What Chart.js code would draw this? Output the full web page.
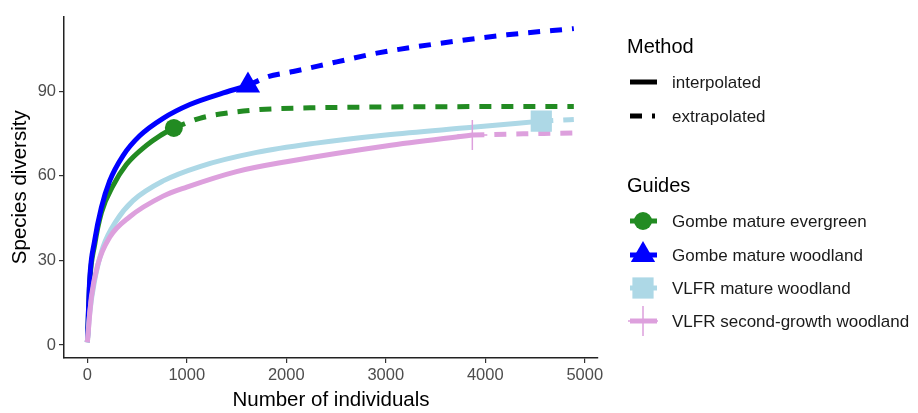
<!DOCTYPE html>
<html>
<head>
<meta charset="utf-8">
<script src="https://cdn.jsdelivr.net/npm/chart.js@4.4.1/dist/chart.umd.min.js"></script>
<style>
  html, body { margin: 0; padding: 0; background: #fff; }
</style>
</head>
<body>
<canvas id="rarefaction" width="918" height="413"></canvas>
<script>
const xTicks = [0, 1000, 2000, 3000, 4000, 5000];
const yTicks = [0, 30, 60, 90];

const groups = ["Gombe mature evergreen", "Gombe mature woodland", "VLFR mature woodland", "VLFR second-growth woodland"];
const methods = ["interpolated", "extrapolated"];
const colors = ["#228B22", "#0000FF", "#ADD8E6", "#DDA0DD"];

// Gombe mature evergreen
const evgInterpN = [1, 24, 74, 142, 259, 393, 595, 729, 870];
const evgInterpS = [1, 22, 35.5, 47, 56.5, 64, 70.8, 74.2, 77];
const evgExtrapN = [870, 1130, 1334, 1735, 2240, 2910, 3600, 4300, 4890];
const evgExtrapS = [77, 80.4, 81.9, 83.5, 84.1, 84.4, 84.5, 84.6, 84.6];

// Gombe mature woodland
const gwInterpN = [1, 24, 74, 142, 225, 360, 527, 762, 1031, 1367, 1615];
const gwInterpS = [1, 23, 37, 48.8, 58.2, 67.2, 74.2, 80.4, 85.3, 89.4, 92];
const gwExtrapN = [1615, 1803, 2070, 2507, 2910, 3547, 4218, 4890];
const gwExtrapS = [92, 95, 97, 100.4, 103.5, 107, 110, 112.2];

// VLFR mature woodland
const vmInterpN = [1, 24, 74, 158, 293, 460, 762, 1131, 1702, 2300, 3000, 3870, 4563];
const vmInterpS = [1, 11.2, 23, 34.7, 44.1, 51.2, 58.2, 63.3, 68.3, 71.6, 74.5, 77.2, 79.4];
const vmExtrapN = [4563, 4730, 4890];
const vmExtrapS = [79.4, 79.7, 80];

// VLFR second-growth woodland
const vsInterpN = [1, 41, 108, 225, 427, 762, 1000, 1500, 2000, 3000, 3870];
const vsInterpS = [1, 17, 28.8, 38.2, 45.5, 52.8, 56, 61.5, 65, 70.6, 74.5];
const vsExtrapN = [3870, 4380, 4890];
const vsExtrapS = [74.5, 74.9, 75.2];

const interpN = [evgInterpN, gwInterpN, vmInterpN, vsInterpN];
const interpS = [evgInterpS, gwInterpS, vmInterpS, vsInterpS];
const extrapN = [evgExtrapN, gwExtrapN, vmExtrapN, vsExtrapN];
const extrapS = [evgExtrapS, gwExtrapS, vmExtrapS, vsExtrapS];

const shapes = ["circle", "triangle", "rect", "cross"];
const shapeSize = [9, 14, 15, 15];

const FONT = '"Liberation Sans", Arial, sans-serif';

function pts(xs, ys) {
  return xs.map((x, i) => ({ x: x, y: ys[i] }));
}

let datasets = [];
groups.forEach((g, i) => {
  datasets.push({
    label: g + " " + methods[0],
    data: pts(interpN[i], interpS[i]),
    borderColor: colors[i],
    borderWidth: 5,
    pointRadius: 0,
    cubicInterpolationMode: "monotone",
    order: 4 - i
  });
  datasets.push({
    label: g + " " + methods[1],
    data: pts(extrapN[i], extrapS[i]),
    borderColor: colors[i],
    borderWidth: 5,
    borderDash: [12, 10],
    pointRadius: 0,
    cubicInterpolationMode: "monotone",
    order: 4 - i
  });
  const last = interpN[i].length - 1;
  datasets.push({
    label: g,
    data: [{ x: interpN[i][last], y: interpS[i][last] }],
    showLine: false,
    pointStyle: shapes[i],
    pointRadius: shapeSize[i],
    pointBackgroundColor: colors[i],
    pointBorderColor: colors[i],
    pointBorderWidth: shapes[i] == "cross" ? 1.5 : 0,
    order: 0
  });
});

const sideLegend = {
  id: "sideLegend",
  afterDraw(chart) {
    const ctx = chart.ctx;
    ctx.save();
    ctx.textBaseline = "middle";
    ctx.textAlign = "left";
    ctx.fillStyle = "#000";
    ctx.font = "20px " + FONT;
    ctx.fillText("Method", 627, 47);
    ctx.fillText("Guides", 627, 186);

    ctx.font = "17px " + FONT;
    ctx.fillStyle = "#1a1a1a";
    ctx.fillText(methods[0], 672, 83);
    ctx.fillText(methods[1], 672, 117);

    ctx.strokeStyle = "#000";
    ctx.lineWidth = 5;
    ctx.beginPath();
    ctx.moveTo(630, 82);
    ctx.lineTo(657, 82);
    ctx.stroke();
    ctx.setLineDash([12, 10]);
    ctx.beginPath();
    ctx.moveTo(630, 116);
    ctx.lineTo(655, 116);
    ctx.stroke();
    ctx.setLineDash([]);

    const rows = [221, 255, 288, 321];
    groups.forEach((g, i) => {
      ctx.strokeStyle = colors[i];
      ctx.lineWidth = 5;
      ctx.beginPath();
      ctx.moveTo(630, rows[i]);
      ctx.lineTo(657, rows[i]);
      ctx.stroke();
      ctx.fillStyle = colors[i];
      ctx.lineWidth = 1.5;
      Chart.helpers.drawPoint(ctx, {
        pointStyle: shapes[i],
        radius: shapeSize[i],
        rotation: 0,
        borderWidth: shapes[i] == "cross" ? 1.5 : 0
      }, 643, rows[i]);
      ctx.fillStyle = "#1a1a1a";
      ctx.fillText(g, 672, rows[i] + 1);
    });
    ctx.restore();
  }
};

new Chart(document.getElementById("rarefaction"), {
  type: "line",
  data: { datasets: datasets },
  options: {
    responsive: false,
    animation: false,
    layout: { padding: { top: 15, right: 320, left: 0, bottom: 0 } },
    plugins: { legend: { display: false }, tooltip: { enabled: false } },
    scales: {
      x: {
        type: "linear",
        min: -234,
        max: 5133,
        afterBuildTicks: (s) => { s.ticks = xTicks.map(v => ({ value: v })); },
        afterFit: (s) => { s.height = 55; },
        grid: { drawOnChartArea: false, drawTicks: true, tickLength: 5, color: "#333", lineWidth: 1.2 },
        border: { display: true, color: "#222", width: 1.5 },
        ticks: { color: "#4d4d4d", font: { family: FONT, size: 16.5 }, padding: 3, maxRotation: 0, autoSkip: false, callback: (v) => String(v) },
        title: { display: true, text: "Number of individuals", color: "#000", font: { family: FONT, size: 20.5 }, padding: 0 }
      },
      y: {
        type: "linear",
        min: -4.6,
        max: 116.5,
        afterBuildTicks: (s) => { s.ticks = yTicks.map(v => ({ value: v })); },
        afterFit: (s) => { s.width = 64; },
        grid: { drawOnChartArea: false, drawTicks: true, tickLength: 5, color: "#333", lineWidth: 1.2 },
        border: { display: true, color: "#222", width: 1.5 },
        ticks: { color: "#4d4d4d", font: { family: FONT, size: 16.5 }, padding: 3, autoSkip: false, callback: (v) => String(v) },
        title: { display: true, text: "Species diversity", color: "#000", font: { family: FONT, size: 20.5 }, padding: { top: 8, bottom: 0 } }
      }
    }
  },
  plugins: [sideLegend]
});
</script>
</body>
</html>
